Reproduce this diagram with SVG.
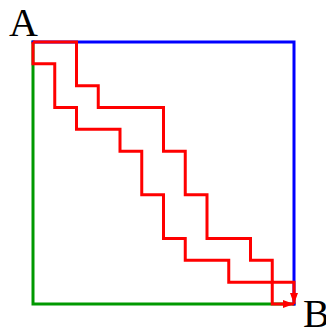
<svg xmlns="http://www.w3.org/2000/svg" width="326" height="330" viewBox="0 0 326 330">
  <style>
    .lbl { font-family: "Liberation Serif", "Times New Roman", serif; font-size: 40px; fill: #000; }
    .edge { fill: none; stroke-width: 3; stroke-linecap: square; }
    .path { fill: none; stroke: #ff0000; stroke-width: 3; stroke-linejoin: miter; }
  </style>
  <defs>
    <marker id="arr" markerUnits="userSpaceOnUse" markerWidth="12" markerHeight="10" refX="11" refY="4" orient="auto">
      <path d="M0,0 L11,4 L0,8 z" fill="#ff0000"/>
    </marker>
  </defs>
  <rect width="326" height="330" fill="#fff"/>
  <g id="square">
    <path class="edge" stroke="#009900" d="M33,42 V304 H294"/>
    <path class="edge" stroke="#0000ff" d="M33,42 H294 V304"/>
  </g>
  <g id="connectors">
    <path class="path" marker-end="url(#arr)" d="M33,42 H76.5 V85.67 H98.25 V107.5 H163.5 V151.17 H185.25 V194.83 H207 V238.5 H250.5 V260.33 H272.25 V282.17 H294 V304"/>
    <path class="path" marker-end="url(#arr)" d="M33,42 V63.83 H54.75 V107.5 H76.5 V129.33 H120 V151.17 H141.75 V194.83 H163.5 V238.5 H185.25 V260.33 H228.75 V282.17 H272.25 V304 H294"/>
  </g>
  <g id="A"><text class="lbl" x="9" y="36">A</text></g>
  <g id="B"><text class="lbl" x="303" y="327">B</text></g>
</svg>
